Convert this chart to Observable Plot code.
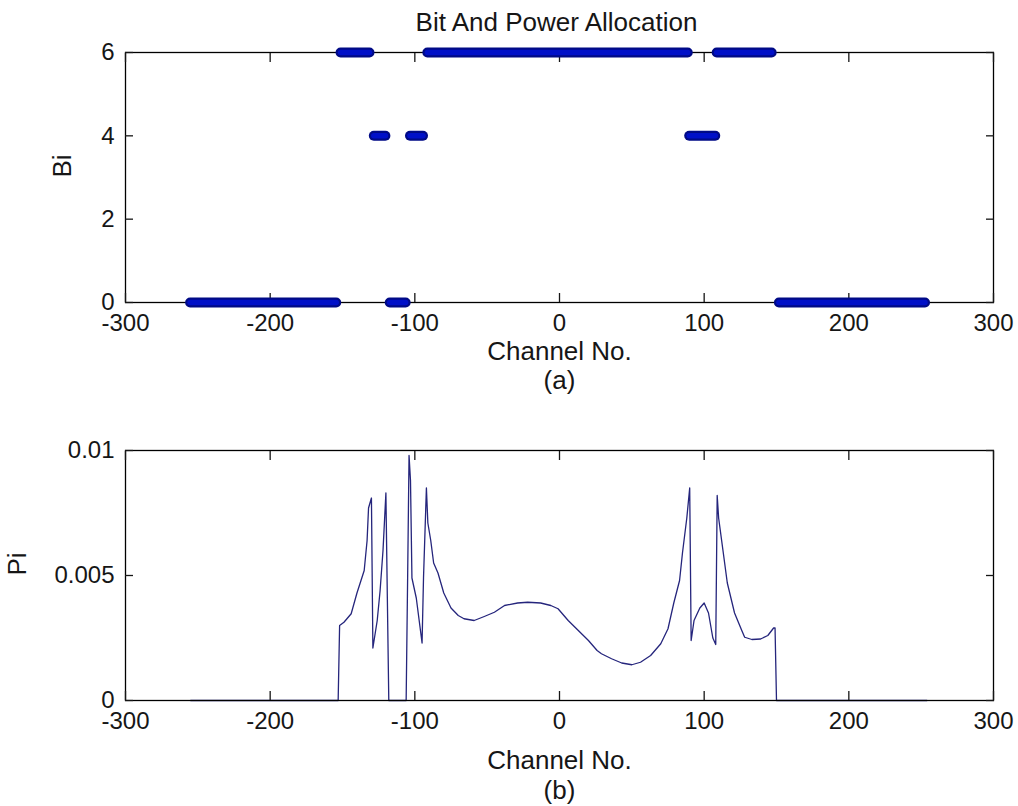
<!DOCTYPE html>
<html>
<head>
<meta charset="utf-8">
<script src="https://cdn.jsdelivr.net/npm/d3@7"></script>
<script src="https://cdn.jsdelivr.net/npm/@observablehq/plot@0.6"></script>
<style>
  html, body { margin: 0; padding: 0; background: #fff; }
  #wrap { width: 1018px; height: 806px; background: #fff; overflow: hidden; }
  #wrap svg { display: block; }
</style>
</head>
<body>
<div id="wrap"></div>
<script>
// ---------- data ----------
const chartTitle = "Bit And Power Allocation";
const xTicks = [-300, -200, -100, 0, 100, 200, 300];
const biTicks = [0, 2, 4, 6];
const piTicks = [0, 0.005, 0.01];
const piTickLabels = ["0", "0.005", "0.01"];

// bit allocation: runs of consecutive channels with the same number of bits
const bitStart = [-255, -151, -128, -117, -103, -91, 90, 109, 152];
const bitEnd   = [-154, -131, -120, -106,  -94,  89, 108, 147, 253];
const bitValue = [   0,    6,    4,    0,    4,   6,   4,   6,   0];

// power allocation
const piChannel = [-255, -153, -152, -149, -144, -140, -135, -133, -132, -130, -129, -126, -124, -122, -120, -119, -118,
  -106, -105, -104, -103, -102, -99, -97, -95, -94, -92, -91, -89, -87, -84, -80, -75, -70, -66, -59, -52, -45, -38, -29,
  -22, -13, -6, -1, 6, 13, 20, 26, 29, 36, 43, 50, 56, 63, 70, 75, 79, 83, 85, 88, 90, 91, 93, 97, 100, 103, 106, 108,
  109, 110, 113, 116, 121, 126, 128, 133, 139, 144, 148, 149, 150, 254];
const piValue = [0, 0, 0.0030, 0.00313, 0.00347, 0.0043, 0.0052, 0.0064, 0.0077, 0.0081, 0.0021, 0.0032, 0.0044, 0.0060, 0.0083, 0.0041, 0,
  0, 0.0048, 0.0098, 0.0088, 0.0049, 0.0041, 0.0032, 0.0023, 0.0049, 0.0085, 0.0071, 0.0064, 0.0055, 0.0051, 0.0043, 0.0037, 0.0034, 0.00327, 0.0032, 0.00336, 0.00353, 0.0038, 0.0039,
  0.00393, 0.0039, 0.0038, 0.00367, 0.0032, 0.0028, 0.0024, 0.0020, 0.00187, 0.00167, 0.0015, 0.00143, 0.00153, 0.0018, 0.00227, 0.00287, 0.0039, 0.0048, 0.0059, 0.0073, 0.0085, 0.0024, 0.0032, 0.0037, 0.0039, 0.0035, 0.0025, 0.00224,
  0.0082, 0.0073, 0.0060, 0.0047, 0.0035, 0.0028, 0.00253, 0.00244, 0.00246, 0.0026, 0.0029, 0.0029, 0, 0];

// ---------- tables ----------
const segs = bitValue.map((b, i) => ({x1: bitStart[i], x2: bitEnd[i], b}));
const pts = piChannel.map((c, i) => ({ch: c, p: piValue[i]}));

const FONT = "'Liberation Sans', Arial, Helvetica, sans-serif";
const FS = 24;      // tick labels
const LFS = 26;     // title and axis labels
const TXT = "#161616";
const W = 1018;

function axes(yTicks, yFmt) {
  return [
    Plot.frame({stroke: "black", strokeWidth: 1.3}),
    Plot.axisX(xTicks, {anchor: "bottom", tickSize: -9, tickPadding: 20, label: null,
      tickFormat: d => String(d), fontSize: FS, fill: TXT, strokeWidth: 1.3}),
    Plot.axisX(xTicks, {anchor: "top", tickSize: -9, label: null, tickFormat: () => "", strokeWidth: 1.3}),
    Plot.axisY(yTicks, {anchor: "left", tickSize: -8, tickPadding: 19, label: null,
      tickFormat: yFmt, fontSize: FS, fill: TXT, strokeWidth: 1.3}),
    Plot.axisY(yTicks, {anchor: "right", tickSize: -8, label: null, tickFormat: () => "", strokeWidth: 1.3})
  ];
}

const common = {
  width: W,
  marginLeft: 125,
  marginRight: 25,
  x: {domain: [-300, 300]},
  style: {fontFamily: FONT, fontSize: FS + "px", color: TXT, background: "#fff", overflow: "visible"}
};

// ---------- panel (a) ----------
const panelA = Plot.plot({
  ...common,
  height: 400,
  marginTop: 52,
  marginBottom: 98,
  y: {domain: [0, 6]},
  marks: [
    ...axes(biTicks, d => String(d)),
    Plot.ruleY(segs, {y: "b", x1: "x1", x2: "x2", stroke: "#000a86", strokeWidth: 10, strokeLinecap: "round"}),
    Plot.ruleY(segs, {y: "b", x1: "x1", x2: "x2", stroke: "#0010c8", strokeWidth: 5.5, strokeLinecap: "round"}),
    Plot.text([chartTitle], {text: d => d, frameAnchor: "top", dy: -30, dx: -3, lineAnchor: "middle", fontSize: LFS, fill: TXT}),
    Plot.text(["Channel No."], {text: d => d, frameAnchor: "bottom", dy: 49, lineAnchor: "middle", fontSize: LFS, fill: TXT}),
    Plot.text(["(a)"], {text: d => d, frameAnchor: "bottom", dy: 78, lineAnchor: "middle", fontSize: LFS, fill: TXT}),
    Plot.text(["Bi"], {text: d => d, frameAnchor: "left", dx: -63, rotate: -90, lineAnchor: "middle", fontSize: LFS, fill: TXT})
  ]
});

// ---------- panel (b) ----------
const panelB = Plot.plot({
  ...common,
  height: 406,
  marginTop: 50,
  marginBottom: 106,
  y: {domain: [0, 0.01]},
  marks: [
    Plot.line(pts, {x: "ch", y: "p", stroke: "#25257c", strokeWidth: 1.3}),
    ...axes(piTicks, d => piTickLabels[piTicks.indexOf(d)]),
    Plot.text(["Channel No."], {text: d => d, frameAnchor: "bottom", dy: 60, lineAnchor: "middle", fontSize: LFS, fill: TXT}),
    Plot.text(["(b)"], {text: d => d, frameAnchor: "bottom", dy: 90, lineAnchor: "middle", fontSize: LFS, fill: TXT}),
    Plot.text(["Pi"], {text: d => d, frameAnchor: "left", dx: -108, rotate: -90, lineAnchor: "middle", fontSize: LFS, fill: TXT})
  ]
});

const wrap = document.getElementById("wrap");
wrap.appendChild(panelA);
wrap.appendChild(panelB);
</script>
</body>
</html>
